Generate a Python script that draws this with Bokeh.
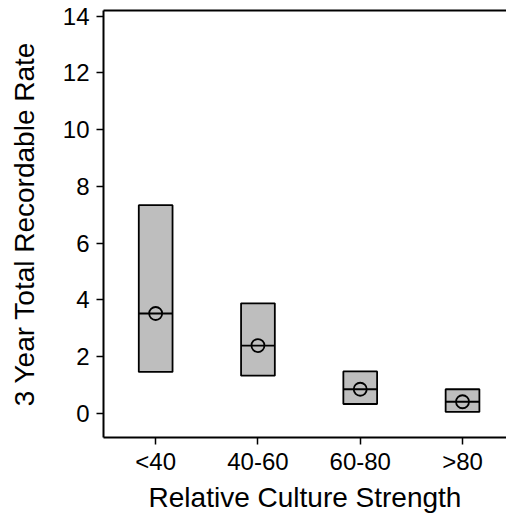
from bokeh.plotting import figure
from bokeh.models import Range1d, FixedTicker, LinearAxis, ColumnDataSource
from bokeh.embed import file_html
from bokeh.resources import INLINE

categories = ["<40", "40-60", "60-80", ">80"]
box_low = [1.46, 1.33, 0.33, 0.05]
box_high = [7.34, 3.88, 1.48, 0.85]
medians = [3.52, 2.39, 0.85, 0.41]
means = [3.52, 2.39, 0.85, 0.41]
y_ticks = [0, 2, 4, 6, 8, 10, 12, 14]

xs = list(range(1, len(categories) + 1))
bw = 0.33
src = ColumnDataSource(dict(
    x=xs, low=box_low, high=box_high, med=medians, mean=means,
    left=[x - bw / 2 for x in xs], right=[x + bw / 2 for x in xs],
))

FONT = "Liberation Sans"

p = figure(width=506, height=515, output_backend="svg", toolbar_location=None,
           x_range=Range1d(0.49, 4.43), y_range=Range1d(-0.85, 14.2),
           min_border_left=103, min_border_right=0, min_border_top=10,
           min_border_bottom=0, outline_line_color=None,
           background_fill_color="white", border_fill_color="white")
p.grid.visible = False

p.quad(left="left", right="right", bottom="low", top="high", source=src,
       fill_color="#BEBEBE", line_color="black", line_width=1.8)
p.segment(x0="left", x1="right", y0="med", y1="med", source=src,
          line_color="black", line_width=1.8)
p.scatter(x="x", y="mean", source=src, marker="circle", size=13,
          fill_color=None, line_color="black", line_width=1.8)

for ax in (p.xaxis[0], p.yaxis[0]):
    ax.axis_line_width = 2
    ax.axis_line_color = "black"
    ax.major_tick_line_width = 1.5
    ax.major_tick_line_color = "black"
    ax.major_tick_out = 7
    ax.major_tick_in = 0
    ax.minor_tick_line_color = None
    ax.major_label_text_font = FONT
    ax.major_label_text_font_size = "24px"
    ax.major_label_text_color = "black"
    ax.axis_label_text_font = FONT
    ax.axis_label_text_font_size = "28px"
    ax.axis_label_text_font_style = "normal"
    ax.axis_label_text_color = "black"

p.xaxis.ticker = FixedTicker(ticks=xs)
p.xaxis.major_label_overrides = {x: c for x, c in zip(xs, categories)}
p.xaxis.axis_label = "Relative Culture Strength"
p.xaxis.major_label_standoff = 3
p.xaxis.axis_label_standoff = 4

p.yaxis.ticker = FixedTicker(ticks=y_ticks)
p.yaxis.axis_label = "3 Year Total Recordable Rate"
p.yaxis.major_label_standoff = 7
p.yaxis.axis_label_standoff = 20

top = LinearAxis(ticker=FixedTicker(ticks=[]), major_label_text_font_size="0px",
                 major_tick_out=0, major_tick_in=0, major_label_standoff=0,
                 major_tick_line_color=None, minor_tick_line_color=None,
                 axis_line_width=2, axis_line_color="black")
p.add_layout(top, "above")

open("out.html", "w").write(file_html(p, INLINE))
